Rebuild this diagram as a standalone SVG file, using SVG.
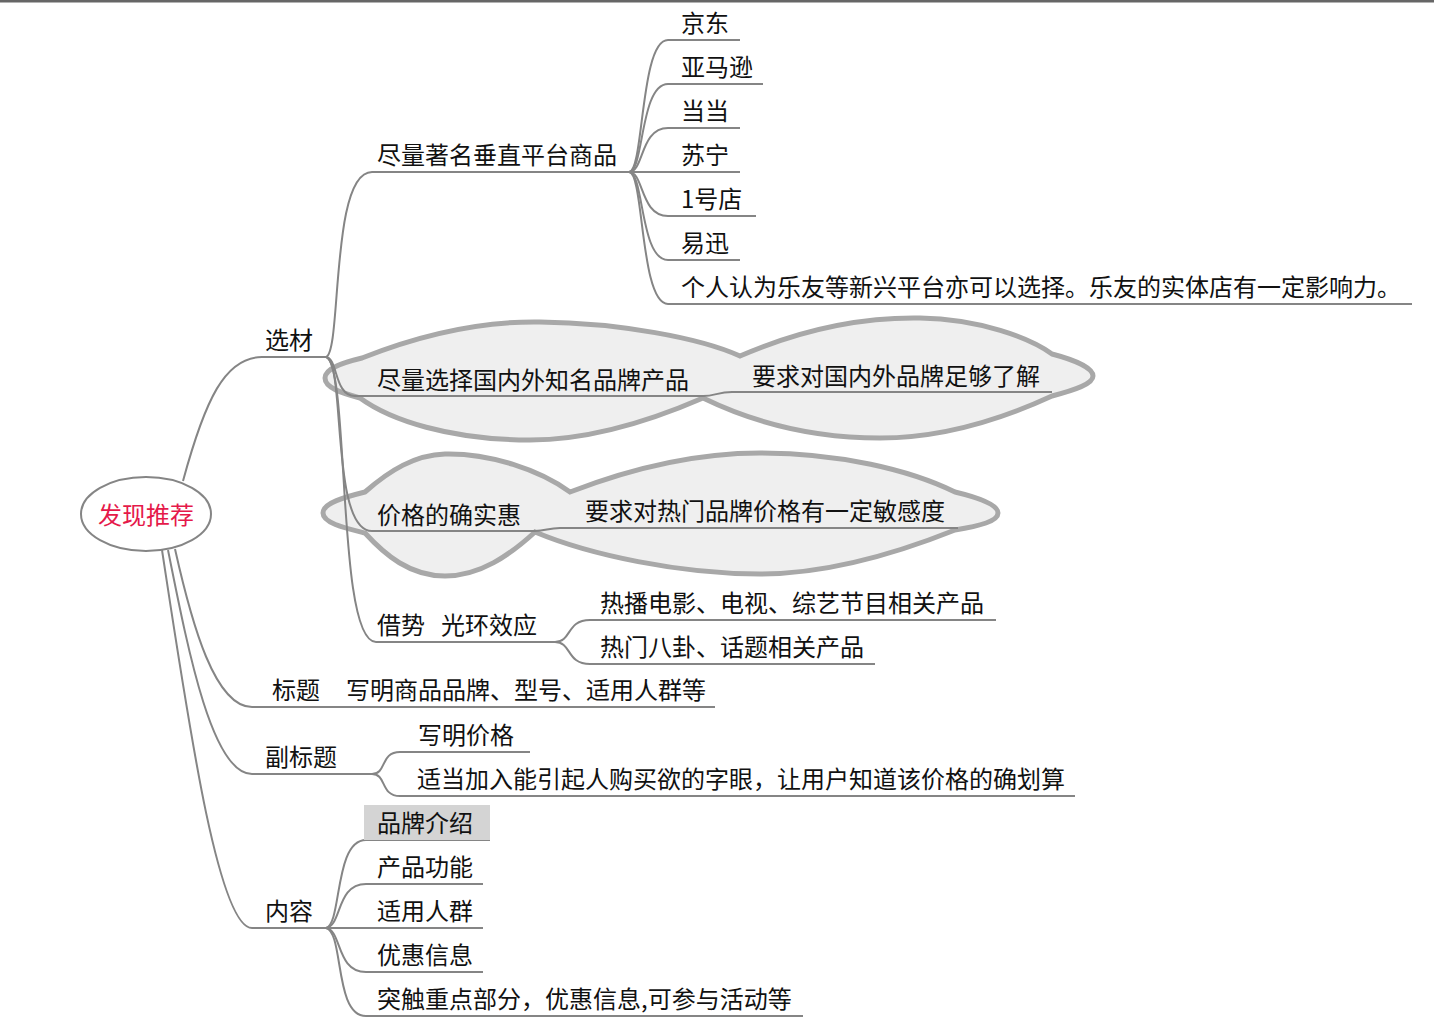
<svg xmlns="http://www.w3.org/2000/svg" width="1434" height="1022" viewBox="0 0 1434 1022">
<style>
text{font-family:"Noto Sans CJK SC","Noto Sans",sans-serif;font-size:24px;fill:#111}
.c{fill:none;stroke:#858585;stroke-width:2}
.cloud{fill:#efefef;stroke:#a8a8a8;stroke-width:5}
.root{fill:#e5194a;text-anchor:middle}
</style>
<rect x="0" y="0" width="1434" height="2.5" fill="#666"/>
<g id="cloud-brand">
<path class="cloud" d="M325,378 C325,368 345,362 362,358 C420,335 480,321 540,322 C620,323 700,338 740,356 C800,330 860,317 920,318 C980,319 1030,338 1052,354 C1075,360 1093,368 1093,376 C1093,384 1075,390 1052,396 C1000,420 940,438 880,438 C800,438 740,416 703,398 C650,421 590,440 530,440 C450,440 390,420 360,398 C342,393 325,388 325,378 Z"/>
</g>
<g id="cloud-price">
<path class="cloud" d="M323,513 C323,503 345,497 365,492 C390,470 415,455 445,454 C490,453 540,470 570,492 C640,465 700,453 760,453 C840,453 910,470 955,492 C980,498 998,505 998,513 C998,521 980,526 955,530 C900,552 830,574 760,574 C680,574 590,555 535,532 C510,555 480,576 445,576 C410,576 385,555 365,533 C345,528 323,523 323,513 Z"/>
</g>
<g id="connectors">
<path class="c" d="M183,481 C205,400 225,357 262,357 L326,357"/>
<path class="c" d="M175,549 C192,625 215,707 252,707 L715,707"/>
<path class="c" d="M168,550 C188,650 212,774 252,774 L372,774"/>
<path class="c" d="M162,550 C188,720 218,928 252,928 L326,928"/>
<path class="c" d="M326,357 C342,352 330,172 372,172 L630,172"/>
<path class="c" d="M326,357 C338,358 334,396 355,396 L703,396"/>
<path class="c" d="M703,396 C715,396 718,392 732,392 L1052,392"/>
<path class="c" d="M326,357 C346,362 330,531 372,531 L535,531"/>
<path class="c" d="M535,531 C546,531 548,528 560,528 L958,528"/>
<path class="c" d="M326,357 C350,364 336,642 376,642 L555,642"/>
<path class="c" d="M555,642 C572,642 566,620 590,620 L996,620"/>
<path class="c" d="M555,642 C572,642 566,664 590,664 L875,664"/>
<path class="c" d="M629,172 C644,172 640,40 668,40 L740,40"/>
<path class="c" d="M629,172 C644,172 640,84 668,84 L763,84"/>
<path class="c" d="M629,172 C644,172 640,128 668,128 L740,128"/>
<path class="c" d="M629,172 L740,172"/>
<path class="c" d="M629,172 C644,172 640,216 668,216 L756,216"/>
<path class="c" d="M629,172 C644,172 640,260 668,260 L740,260"/>
<path class="c" d="M629,172 C644,172 640,304 668,304 L1412,304"/>
<path class="c" d="M372,774 C387,774 380,752 400,752 L530,752"/>
<path class="c" d="M372,774 C387,774 380,796 400,796 L1075,796"/>
<path class="c" d="M326,928 C342,924 334,840 366,840 L490,840"/>
<path class="c" d="M326,928 C342,926 336,884 366,884 L483,884"/>
<path class="c" d="M326,928 L483,928"/>
<path class="c" d="M326,928 C342,930 336,972 366,972 L483,972"/>
<path class="c" d="M326,928 C344,932 334,1016 366,1016 L803,1016"/>
</g>
<g id="root">
<ellipse cx="146" cy="514" rx="65" ry="37" fill="#fff" stroke="#858585" stroke-width="2"/>
<text class="root" x="146" y="524">发现推荐</text>
</g>
<g id="n-xuancai"><text x="265" y="349">选材</text></g>
<g id="n-vertical"><text x="377" y="164">尽量著名垂直平台商品</text></g>
<g id="n-jd"><text x="681" y="32">京东</text></g>
<g id="n-amazon"><text x="681" y="76">亚马逊</text></g>
<g id="n-dangdang"><text x="681" y="120">当当</text></g>
<g id="n-suning"><text x="681" y="164">苏宁</text></g>
<g id="n-yhd"><text x="681" y="208">1号店</text></g>
<g id="n-yixun"><text x="681" y="252">易迅</text></g>
<g id="n-leyou"><text x="681" y="296">个人认为乐友等新兴平台亦可以选择。乐友的实体店有一定影响力。</text></g>
<g id="n-brand"><text x="377" y="389">尽量选择国内外知名品牌产品</text></g>
<g id="n-brand-req"><text x="752" y="385">要求对国内外品牌足够了解</text></g>
<g id="n-price"><text x="377" y="524">价格的确实惠</text></g>
<g id="n-price-req"><text x="585" y="520">要求对热门品牌价格有一定敏感度</text></g>
<g id="n-halo"><text x="377" y="634">借势<tspan x="441">光环效应</tspan></text></g>
<g id="n-hot1"><text x="600" y="612">热播电影、电视、综艺节目相关产品</text></g>
<g id="n-hot2"><text x="600" y="656">热门八卦、话题相关产品</text></g>
<g id="n-title"><text x="272" y="699">标题<tspan x="346">写明商品品牌、型号、适用人群等</tspan></text></g>
<g id="n-subtitle"><text x="265" y="766">副标题</text></g>
<g id="n-sub1"><text x="418" y="744">写明价格</text></g>
<g id="n-sub2"><text x="417" y="788">适当加入能引起人购买欲的字眼，让用户知道该价格的确划算</text></g>
<g id="n-content"><text x="265" y="920">内容</text></g>
<g id="n-c1"><rect x="364" y="805" width="126" height="35" fill="#d4d4d4"/><text x="377" y="832">品牌介绍</text></g>
<g id="n-c2"><text x="377" y="876">产品功能</text></g>
<g id="n-c3"><text x="377" y="920">适用人群</text></g>
<g id="n-c4"><text x="377" y="964">优惠信息</text></g>
<g id="n-c5"><text x="377" y="1008">突触重点部分，优惠信息,可参与活动等</text></g>
</svg>
